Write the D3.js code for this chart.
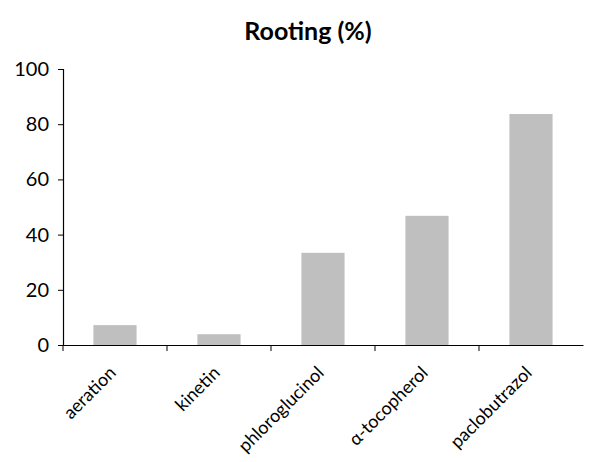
<!DOCTYPE html>
<html><head><meta charset="utf-8">
<script src="https://cdn.jsdelivr.net/npm/d3@7"></script>
<style>body{margin:0;background:#fff}svg{display:block}text{font-family:Lato,"Open Sans",sans-serif}</style>
</head><body>
<svg id="c" width="597" height="462"></svg>
<script>
const categories = ["aeration","kinetin","phloroglucinol","α-tocopherol","paclobutrazol"];
const values = [7.2, 3.9, 33.4, 46.8, 83.7];
const yTicks = [0,20,40,60,80,100];
const title = "Rooting (%)";

const svg = d3.select("#c");
const x = d3.scaleBand().domain(categories).range([63, 583]).padding(0);
const y = d3.scaleLinear().domain([0,100]).range([345, 69]);
const barW = x.bandwidth()*0.415;

svg.append("text").attr("x", 308).attr("y", 40).attr("text-anchor","middle")
  .attr("font-size", 25).attr("font-weight","bold").text(title);

svg.selectAll("rect.bar").data(values).join("rect")
  .attr("x",(d,i)=>x(categories[i])+x.bandwidth()/2-barW/2)
  .attr("width",barW)
  .attr("y",d=>y(d)).attr("height",d=>y(0)-y(d))
  .attr("fill","#bfbfbf");

const ya = svg.append("g").attr("transform","translate(63,0)")
  .call(d3.axisLeft(y).tickValues(yTicks).tickSize(5).tickPadding(9));
ya.select(".domain").attr("stroke","#000").attr("stroke-width",1.2);
ya.selectAll(".tick line").attr("stroke","#000");
ya.selectAll(".tick text").attr("font-size",20).attr("fill","#000").style("font-family","Lato,sans-serif");

const xa = svg.append("g").attr("transform","translate(0,345)")
  .call(d3.axisBottom(x).tickValues([]).tickSizeOuter(0));
xa.select(".domain").attr("stroke","#000").attr("stroke-width",1.2);
const bounds = categories.map(c=>x(c));
xa.selectAll("line.b").data(bounds).join("line").attr("class","b")
  .attr("x1",d=>d).attr("x2",d=>d).attr("y1",0).attr("y2",6).attr("stroke","#000");

svg.append("g").selectAll("text.cat").data(categories).join("text")
  .attr("class","cat")
  .attr("transform",d=>`translate(${x(d)+x.bandwidth()/2+2},${374}) rotate(-45)`)
  .attr("text-anchor","end").attr("font-size",18).attr("fill","#000")
  .text(d=>d);
</script>
</body></html>
